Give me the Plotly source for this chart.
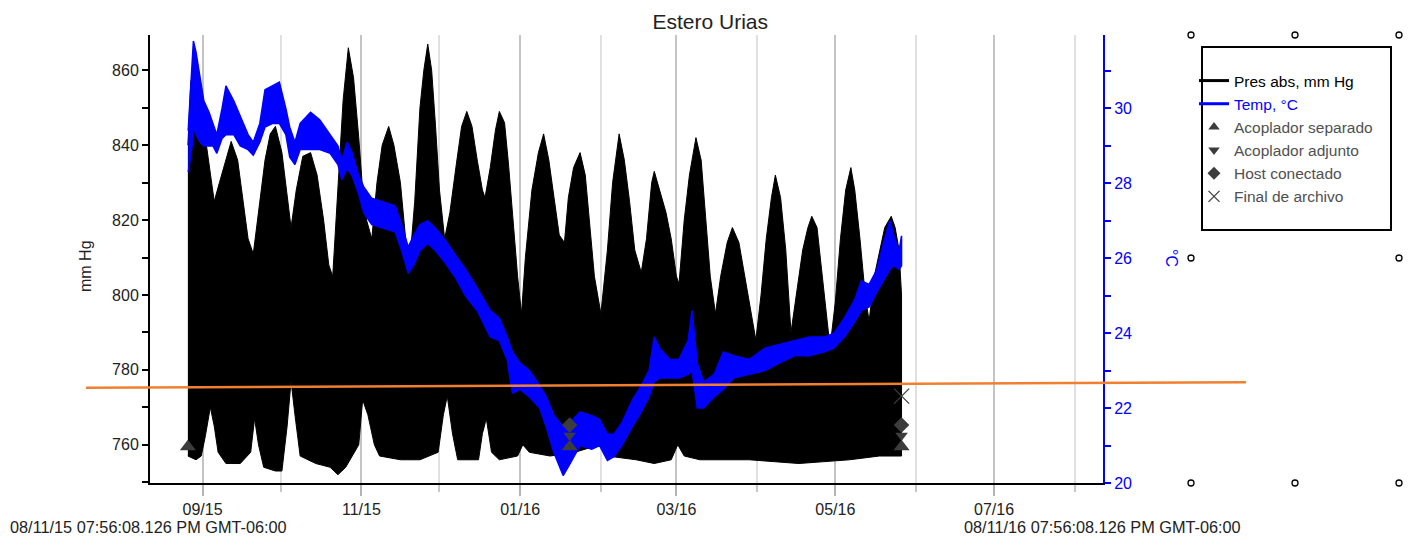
import plotly.graph_objects as go

# ---------------- data ----------------
# Pressure (mm Hg): upper (high-tide) envelope
p_hi_dates = ["2015-08-26 09:00", "2015-08-27 12:00", "2015-08-28 12:00", "2015-08-30", "2015-08-31 12:00",
              "2015-09-02 12:00", "2015-09-04", "2015-09-05 12:00", "2015-09-07 12:00", "2015-09-10",
              "2015-09-12", "2015-09-14 12:00", "2015-09-16 12:00", "2015-09-18 12:00", "2015-09-20 12:00",
              "2015-09-22 12:00", "2015-09-25", "2015-09-27", "2015-09-29", "2015-10-01 12:00",
              "2015-10-03 12:00", "2015-10-05", "2015-10-07", "2015-10-09 12:00", "2015-10-12 12:00",
              "2015-10-15", "2015-10-17 12:00", "2015-10-19 12:00", "2015-10-21", "2015-10-23",
              "2015-10-25", "2015-10-27", "2015-10-29", "2015-10-31", "2015-11-01 12:00",
              "2015-11-03", "2015-11-05", "2015-11-07", "2015-11-09", "2015-11-11 12:00",
              "2015-11-13 12:00", "2015-11-16", "2015-11-18", "2015-11-19 12:00", "2015-11-21 12:00",
              "2015-11-23 12:00", "2015-11-25", "2015-11-26 12:00", "2015-11-28", "2015-11-29 12:00",
              "2015-12-01", "2015-12-03", "2015-12-05", "2015-12-07 12:00", "2015-12-09 12:00",
              "2015-12-11 12:00", "2015-12-13 12:00", "2015-12-15 12:00", "2015-12-17 12:00", "2015-12-18 12:00",
              "2015-12-20 12:00", "2015-12-22 12:00", "2015-12-24", "2015-12-26", "2015-12-27 12:00",
              "2015-12-29 12:00", "2015-12-31", "2016-01-01 12:00", "2016-01-03", "2016-01-05 12:00",
              "2016-01-08", "2016-01-10", "2016-01-12", "2016-01-14", "2016-01-16",
              "2016-01-18", "2016-01-19 12:00", "2016-01-21 12:00", "2016-01-24", "2016-01-26",
              "2016-01-27 12:00", "2016-01-29 12:00", "2016-02-01", "2016-02-03 12:00", "2016-02-05 12:00",
              "2016-02-08", "2016-02-10", "2016-02-12", "2016-02-14", "2016-02-16 12:00",
              "2016-02-18 12:00", "2016-02-20 12:00", "2016-02-21 12:00", "2016-02-23 12:00", "2016-02-26",
              "2016-02-28", "2016-03-01", "2016-03-02", "2016-03-04", "2016-03-06",
              "2016-03-08 12:00", "2016-03-10 12:00", "2016-03-12", "2016-03-14", "2016-03-16",
              "2016-03-18", "2016-03-20 12:00", "2016-03-22 12:00", "2016-03-25", "2016-03-27",
              "2016-03-29 12:00", "2016-03-31 12:00", "2016-04-02 12:00", "2016-04-04 12:00", "2016-04-06 12:00",
              "2016-04-08", "2016-04-10", "2016-04-12", "2016-04-14", "2016-04-16",
              "2016-04-18 12:00", "2016-04-20 12:00", "2016-04-22", "2016-04-24", "2016-04-25 12:00",
              "2016-04-27 12:00", "2016-04-29", "2016-05-01", "2016-05-03", "2016-05-05",
              "2016-05-07", "2016-05-08 12:00", "2016-05-10 12:00", "2016-05-12 12:00", "2016-05-14",
              "2016-05-16", "2016-05-18", "2016-05-20", "2016-05-22 12:00", "2016-05-24",
              "2016-05-25 12:00", "2016-05-26 11:00"]
p_hi = [840, 857, 859, 852, 845,
        840, 832, 825, 830, 836,
        841, 836, 826, 815, 811,
        822, 836, 843, 845, 838,
        826, 818, 828, 837, 838,
        832, 820, 808, 805, 830,
        852, 866, 858, 842, 828,
        820, 815, 830, 840, 845,
        840, 830, 815, 808, 825,
        850, 860, 867, 860, 845,
        828, 815, 822, 835, 845,
        849, 845, 836, 828, 826,
        834, 844, 849, 846, 835,
        818, 805, 795, 810, 828,
        838, 843, 836, 826, 816,
        814, 826, 834, 838, 832,
        820, 805, 795, 812, 830,
        843, 836, 825, 812, 806,
        815, 830, 833, 828, 822,
        815, 805, 803, 820, 832,
        842, 836, 822, 805, 795,
        805, 814, 818, 814, 806,
        795, 788, 800, 815, 826,
        832, 826, 812, 790, 800,
        812, 818, 821, 818, 808,
        795, 786, 798, 815, 828,
        834, 828, 815, 800, 793,
        805, 812, 818, 821, 818,
        812, 800]

# Pressure (mm Hg): lower (low-tide) envelope
p_lo_dates = ["2015-08-26 09:00", "2015-08-29 12:00", "2015-08-31 12:00", "2015-09-02", "2015-09-04",
              "2015-09-05 12:00", "2015-09-07", "2015-09-10", "2015-09-15 12:00", "2015-09-19 12:00",
              "2015-09-21", "2015-09-22 12:00", "2015-09-24 12:00", "2015-09-29", "2015-10-01 12:00",
              "2015-10-03 12:00", "2015-10-05", "2015-10-06 12:00", "2015-10-08 12:00", "2015-10-14 12:00",
              "2015-10-20", "2015-10-23", "2015-10-26", "2015-10-31", "2015-11-01 12:00",
              "2015-11-03 12:00", "2015-11-06", "2015-11-08", "2015-11-16", "2015-11-23 12:00",
              "2015-11-30 12:00", "2015-12-02 12:00", "2015-12-04", "2015-12-06", "2015-12-08",
              "2015-12-16", "2015-12-17 12:00", "2015-12-19", "2015-12-21", "2015-12-24",
              "2015-12-31", "2016-01-02", "2016-01-04 12:00", "2016-01-12 12:00", "2016-01-22",
              "2016-01-31 12:00", "2016-02-03 12:00", "2016-02-14 12:00", "2016-02-21 12:00", "2016-02-28",
              "2016-03-01 12:00", "2016-03-04", "2016-03-10", "2016-03-29", "2016-04-17",
              "2016-05-06 12:00", "2016-05-18", "2016-05-26 11:00"]
p_lo = [757, 756, 757, 762, 770,
        765, 758, 755, 755, 758,
        767, 760, 754, 753, 753,
        765, 777, 768, 757, 755,
        754, 752, 754, 760, 772,
        768, 760, 757, 756, 756,
        758, 768, 773, 763, 756,
        756, 763, 767, 758, 756,
        757, 760, 758, 757, 758,
        760, 757, 756, 755, 756,
        760, 757, 756, 756, 755,
        756, 757, 757]

# Temperature (°C): lower / upper edge of the noisy trace
t_dates = ["2015-08-26 12:00", "2015-08-28", "2015-08-28 12:00", "2015-08-29 12:00", "2015-08-31",
           "2015-09-01 12:00", "2015-09-03 12:00", "2015-09-05", "2015-09-06 12:00", "2015-09-08 12:00",
           "2015-09-10", "2015-09-13", "2015-09-15 12:00", "2015-09-18 12:00", "2015-09-20 12:00",
           "2015-09-23", "2015-09-25", "2015-09-28", "2015-09-30 12:00", "2015-10-03",
           "2015-10-04 12:00", "2015-10-06 12:00", "2015-10-08 12:00", "2015-10-12 12:00", "2015-10-16",
           "2015-10-20", "2015-10-23", "2015-10-24 12:00", "2015-10-26 12:00", "2015-10-28 12:00",
           "2015-10-31", "2015-11-02", "2015-11-05", "2015-11-09 12:00", "2015-11-14",
           "2015-11-16 12:00", "2015-11-19", "2015-11-21", "2015-11-23 12:00", "2015-11-26 12:00",
           "2015-11-29 12:00", "2015-12-03", "2015-12-07", "2015-12-11", "2015-12-15 12:00",
           "2015-12-20 12:00", "2015-12-24", "2015-12-27", "2015-12-29", "2016-01-01",
           "2016-01-04 12:00", "2016-01-08 12:00", "2016-01-11", "2016-01-14", "2016-01-17 12:00",
           "2016-01-20", "2016-01-24", "2016-01-28 12:00", "2016-01-31 12:00", "2016-02-03 12:00",
           "2016-02-06", "2016-02-09", "2016-02-13", "2016-02-16 12:00", "2016-02-19 12:00",
           "2016-02-21 12:00", "2016-02-23 12:00", "2016-02-27 12:00", "2016-03-02", "2016-03-05 12:00",
           "2016-03-07", "2016-03-09", "2016-03-11 12:00", "2016-03-15 12:00", "2016-03-19",
           "2016-03-23", "2016-03-29", "2016-04-04", "2016-04-09 12:00", "2016-04-15 12:00",
           "2016-04-21", "2016-04-27", "2016-04-30 12:00", "2016-05-04 12:00", "2016-05-08 12:00",
           "2016-05-11", "2016-05-14", "2016-05-17", "2016-05-19 12:00", "2016-05-22",
           "2016-05-23 12:00", "2016-05-25 12:00", "2016-05-26 11:00"]
t_lo = [28.3, 29.0, 29.5, 29.3, 29.1,
        29.0, 29.0, 29.0, 28.8, 29.2,
        29.3, 29.3, 29.0, 28.9, 28.75,
        29.1, 29.5, 29.6, 29.6, 29.3,
        28.7, 28.5, 28.9, 28.9, 28.9,
        28.8, 28.5, 28.1, 28.4, 28.2,
        27.7, 27.2, 26.9, 26.8, 26.7,
        26.2, 25.6, 25.8, 26.2, 26.4,
        26.2, 25.9, 25.5, 25.0, 24.6,
        23.9, 23.8, 23.3, 22.4, 22.5,
        22.3, 22.0, 21.5, 20.8, 20.2,
        20.5, 21.0, 20.9, 21.0, 20.6,
        20.7, 21.0, 21.5, 21.9, 22.3,
        22.7, 22.8, 22.8, 22.8, 22.9,
        23.0, 22.0, 22.0, 22.3, 22.5,
        22.8, 22.9, 23.0, 23.2, 23.4,
        23.4, 23.5, 23.6, 23.9, 24.3,
        24.6, 24.7, 25.1, 25.4, 25.7,
        25.8, 25.7, 25.8]
t_hi = [29.4, 31.0, 31.8, 31.5, 30.8,
        30.2, 29.9, 29.6, 29.3, 30.0,
        30.6, 30.2, 29.8, 29.3, 29.1,
        29.6, 30.5, 30.6, 30.7, 30.0,
        29.5, 29.1, 29.6, 29.9, 29.7,
        29.3, 29.0, 28.6, 29.1, 28.8,
        28.2, 27.9, 27.6, 27.5, 27.4,
        26.9, 26.3, 26.6, 26.9, 27.0,
        26.8, 26.5, 26.1, 25.7, 25.2,
        24.6, 24.4, 23.9, 23.5, 23.2,
        23.0, 22.6, 22.3, 21.8, 21.5,
        21.6, 21.9, 21.8, 21.7, 21.3,
        21.3, 21.6, 22.2, 22.6, 23.0,
        23.9, 23.6, 23.3, 23.3, 23.8,
        24.6, 23.2, 22.7, 22.9, 23.5,
        23.4, 23.3, 23.6, 23.7, 23.8,
        23.9, 23.9, 24.0, 24.4, 24.9,
        25.4, 25.3, 25.7, 26.4, 27.0,
        26.6, 26.2, 26.6]

# Event markers (mm Hg)
sep_dates = ["2015-08-26 09:00", "2016-01-20", "2016-05-26 11:00"]   # Acoplador separado
sep_vals = [759.5, 759.5, 759.5]
adj_dates = ["2016-01-20", "2016-05-26 11:00"]                       # Acoplador adjunto
adj_vals = [762.5, 762.5]
host_dates = ["2016-01-20", "2016-05-26 11:00"]                      # Host conectado
host_vals = [765.3, 765.3]
eof_dates = ["2016-05-26 12:00"]                                     # Final de archivo
eof_vals = [773.0]

# Reference line (mm Hg at its two ends)
ref_line = [775.2, 776.7]

x_range = ["2015-08-11 19:56:08.126", "2016-08-11 19:56:08.126"]
start_label = "08/11/15 07:56:08.126 PM GMT-06:00"
end_label = "08/11/16 07:56:08.126 PM GMT-06:00"

# ---------------- figure ----------------
W, H = 1419, 541
ML, MR, MT, MB = 150, 316, 35, 58
PW, PH = W - ML - MR, H - MT - MB


def px(x):
    return (x - ML) / PW


def py(y):
    return (H - MB - y) / PH


FONT = "Liberation Sans, Arial, sans-serif"
MARK = "#3c3c3c"

fig = go.Figure()

# pressure band
fig.add_trace(go.Scatter(
    x=p_hi_dates + p_lo_dates[::-1], y=p_hi + p_lo[::-1],
    mode="lines", fill="toself", fillcolor="black",
    line=dict(color="black", width=1), showlegend=False, hoverinfo="skip", yaxis="y"))

# temperature band
fig.add_trace(go.Scatter(
    x=t_dates + t_dates[::-1], y=t_hi + t_lo[::-1],
    mode="lines", fill="toself", fillcolor="#0000ff",
    line=dict(color="#0000ff", width=1.5), showlegend=False, hoverinfo="skip", yaxis="y2"))

# event markers (on overlay axis so they sit above the temperature)
fig.add_trace(go.Scatter(x=sep_dates, y=sep_vals, mode="markers", yaxis="y3", showlegend=False,
                         marker=dict(symbol="triangle-up", size=14, color=MARK)))
fig.add_trace(go.Scatter(x=adj_dates, y=adj_vals, mode="markers", yaxis="y3", showlegend=False,
                         marker=dict(symbol="triangle-down", size=11, color=MARK)))
fig.add_trace(go.Scatter(x=host_dates, y=host_vals, mode="markers", yaxis="y3", showlegend=False,
                         marker=dict(symbol="diamond", size=12, color=MARK)))
fig.add_trace(go.Scatter(x=eof_dates, y=eof_vals, mode="markers", yaxis="y3", showlegend=False,
                         marker=dict(symbol="x-thin-open", size=15, color=MARK,
                                     line=dict(color=MARK, width=1.2))))

# legend entries
fig.add_trace(go.Scatter(x=[None], y=[None], mode="lines", name="<span style='color:black'>Pres abs, mm Hg</span>",
                         line=dict(color="black", width=3)))
fig.add_trace(go.Scatter(x=[None], y=[None], mode="lines", name="<span style='color:#0000ff'>Temp, °C</span>",
                         line=dict(color="#0000ff", width=3)))
fig.add_trace(go.Scatter(x=[None], y=[None], mode="markers", name="Acoplador separado",
                         marker=dict(symbol="triangle-up", size=10, color=MARK)))
fig.add_trace(go.Scatter(x=[None], y=[None], mode="markers", name="Acoplador adjunto",
                         marker=dict(symbol="triangle-down", size=10, color=MARK)))
fig.add_trace(go.Scatter(x=[None], y=[None], mode="markers", name="Host conectado",
                         marker=dict(symbol="diamond", size=10, color=MARK)))
fig.add_trace(go.Scatter(x=[None], y=[None], mode="markers", name="Final de archivo",
                         marker=dict(symbol="x-thin-open", size=11, color=MARK, line=dict(color=MARK, width=1.2))))

shapes = []
# orange reference line
shapes.append(dict(type="line", xref="paper", yref="y", x0=px(86), x1=px(1246),
                   y0=ref_line[0], y1=ref_line[1], line=dict(color="#f08030", width=2.5), layer="above"))
# legend frame
shapes.append(dict(type="rect", xref="paper", yref="paper", x0=px(1202), x1=px(1391),
                   y0=py(230), y1=py(47), line=dict(color="black", width=2)))
# selection handles
for hx, hy in [(1191, 35), (1295, 35), (1399, 35), (1191, 258), (1399, 258),
               (1191, 483), (1295, 483), (1399, 483)]:
    shapes.append(dict(type="circle", xref="paper", yref="paper", xsizemode="pixel", ysizemode="pixel",
                       xanchor=px(hx), yanchor=py(hy), x0=-3, x1=3, y0=-3, y1=3,
                       line=dict(color="black", width=1.3), fillcolor="white"))

annotations = [
    dict(text="mm Hg", xref="paper", yref="paper", x=px(85), y=py(266), textangle=-90,
         showarrow=False, font=dict(family=FONT, size=16, color="#222"), xanchor="center", yanchor="middle"),
    dict(text="°C", xref="paper", yref="paper", x=px(1172), y=py(258), textangle=90,
         showarrow=False, font=dict(family=FONT, size=16, color="#0000ff"), xanchor="center", yanchor="middle"),
    dict(text=start_label, xref="paper", yref="paper", x=px(8), y=py(527), xanchor="left", yanchor="middle",
         showarrow=False, font=dict(family=FONT, size=16.3, color="#222")),
    dict(text=end_label, xref="paper", yref="paper", x=px(962), y=py(527), xanchor="left", yanchor="middle",
         showarrow=False, font=dict(family=FONT, size=16.3, color="#222")),
]

fig.update_layout(
    width=W, height=H, autosize=False,
    margin=dict(l=ML, r=MR, t=MT, b=MB, pad=0),
    paper_bgcolor="white", plot_bgcolor="white",
    font=dict(family=FONT, size=16, color="#222"),
    title=dict(text="Estero Urias", x=px(627), xanchor="center", y=1 - 22 / H, yanchor="middle",
               font=dict(family=FONT, size=21, color="#222")),
    showlegend=True,
    legend=dict(x=px(1194), y=py(64), xanchor="left", yanchor="top", bgcolor="rgba(0,0,0,0)",
                borderwidth=0, font=dict(family=FONT, size=15.5, color="#505050"),
                itemwidth=30, tracegroupgap=0, itemclick=False, itemdoubleclick=False),
    xaxis=dict(type="date", range=x_range, showline=True, linecolor="black", linewidth=2,
               ticks="outside", ticklen=11, tickcolor="#b4b4b4", tickwidth=1.5,
               dtick="M2", tick0="2015-09-01", tickformat="%m/%y",
               showgrid=True, gridcolor="#c4c4c4", gridwidth=1.5, zeroline=False,
               tickfont=dict(family=FONT, size=16, color="#222"),
               minor=dict(dtick="M1", tick0="2015-09-01", ticks="outside", ticklen=7,
                          tickcolor="#c8c8c8", showgrid=True, gridcolor="#e0e0e0", gridwidth=1.5)),
    yaxis=dict(range=[749.8, 869.4], showline=True, linecolor="black", linewidth=2,
               ticks="outside", ticklen=6, tickcolor="black", tickwidth=1.5,
               dtick=20, tick0=760, showgrid=False, zeroline=False,
               tickfont=dict(family=FONT, size=16, color="#222"),
               minor=dict(dtick=10, tick0=750, ticks="outside", ticklen=6, tickcolor="black", showgrid=False)),
    yaxis2=dict(range=[20, 31.96], overlaying="y", side="right", anchor="x",
                showline=True, linecolor="#0000ff", linewidth=2,
                ticks="outside", ticklen=6, tickcolor="#0000ff", tickwidth=1.5,
                dtick=2, tick0=20, showgrid=False, zeroline=False,
                tickfont=dict(family=FONT, size=16, color="#0000ff"),
                minor=dict(dtick=1, tick0=20, ticks="outside", ticklen=6, tickcolor="#0000ff", showgrid=False)),
    yaxis3=dict(range=[749.8, 869.4], overlaying="y", visible=False),
    shapes=shapes,
    annotations=annotations,
)

fig.write_html("out.html")
